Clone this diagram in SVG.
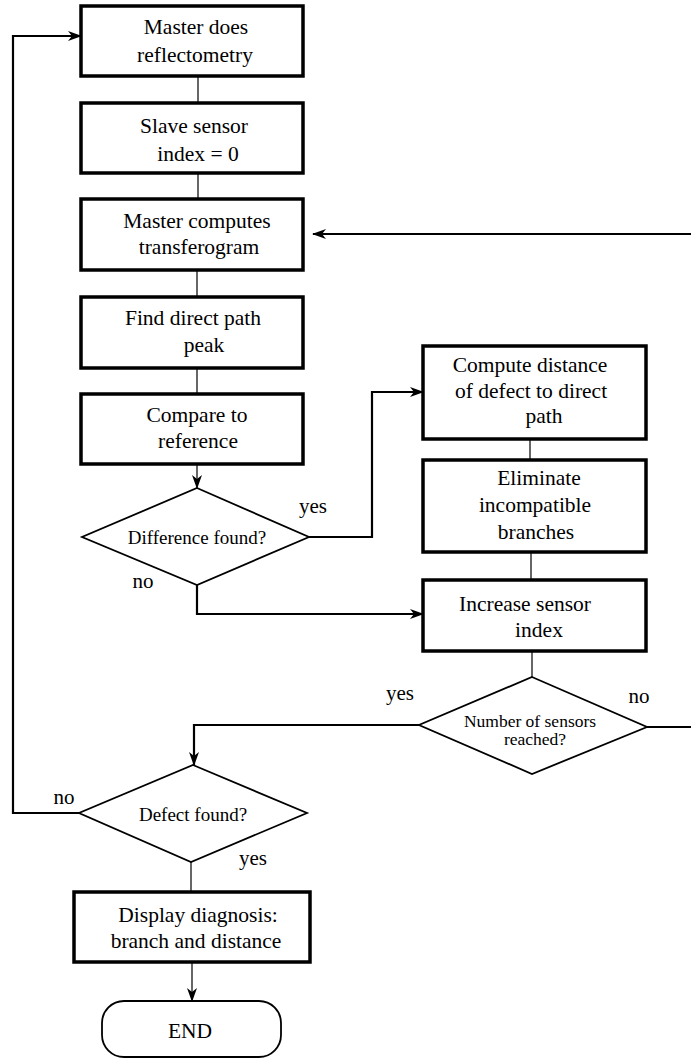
<svg xmlns="http://www.w3.org/2000/svg" width="691" height="1061" viewBox="0 0 691 1061">
<style>
.box{fill:#fff;stroke:#000;stroke-width:3.5}
.dia{fill:#fff;stroke:#000;stroke-width:1.8}
.term{fill:#fff;stroke:#000;stroke-width:1.8}
.t{font-family:"Liberation Serif","Times New Roman",serif;font-size:21.5px;fill:#000;text-anchor:middle}
.ts{font-family:"Liberation Serif","Times New Roman",serif;font-size:19px;fill:#000;text-anchor:middle}
.ts2{font-family:"Liberation Serif","Times New Roman",serif;font-size:17.5px;fill:#000;text-anchor:middle}
.lab{font-family:"Liberation Serif","Times New Roman",serif;font-size:21px;fill:#000;text-anchor:middle}
.thin{fill:none;stroke:#000;stroke-width:1.2}
.flow{fill:none;stroke:#000;stroke-width:2.2}
</style>
<defs>
<marker id="ah" viewBox="0 0 14 10" refX="13" refY="5" markerWidth="14" markerHeight="10" markerUnits="userSpaceOnUse" orient="auto">
<path d="M0,0 L14,5 L0,10 L4,5 z" fill="#000"/>
</marker>
</defs>
<g id="connectors">
<line class="thin" x1="198" y1="76" x2="198" y2="103"/>
<line class="thin" x1="198" y1="173" x2="198" y2="199"/>
<line class="thin" x1="197" y1="270" x2="197" y2="297"/>
<line class="thin" x1="197" y1="368" x2="197" y2="394"/>
<line class="thin" x1="197" y1="464" x2="197" y2="488" marker-end="url(#ah)"/>
<path class="flow" d="M309,537 H372 V392 H423" marker-end="url(#ah)"/>
<path class="flow" d="M197,585 V614 H423" marker-end="url(#ah)"/>
<line class="thin" x1="530" y1="439" x2="530" y2="460"/>
<line class="thin" x1="531" y1="552" x2="531" y2="580"/>
<line class="thin" x1="532" y1="651" x2="532" y2="677"/>
<path class="flow" d="M647,727 H694 V234 H313" marker-end="url(#ah)"/>
<path class="flow" d="M419,725 H194 V765" marker-end="url(#ah)"/>
<path class="flow" d="M79,813 H13 V36 H81" marker-end="url(#ah)"/>
<line class="thin" x1="191" y1="862" x2="191" y2="892"/>
<line class="thin" x1="192" y1="962" x2="192" y2="1001" marker-end="url(#ah)"/>
<text class="lab" x="313" y="513">yes</text>
<text class="lab" x="143" y="588">no</text>
<text class="lab" x="400" y="700">yes</text>
<text class="lab" x="639" y="703">no</text>
<text class="lab" x="64" y="804">no</text>
<text class="lab" x="253" y="865">yes</text>
</g>
<g id="n1"><rect class="box" x="81" y="6" width="222" height="70"/><text class="t" x="196" y="34">Master does</text><text class="t" x="195" y="62">reflectometry</text></g>
<g id="n2"><rect class="box" x="81" y="103" width="222" height="70"/><text class="t" x="194" y="133">Slave sensor</text><text class="t" x="198" y="161">index =  0</text></g>
<g id="n3"><rect class="box" x="81" y="199" width="222" height="71"/><text class="t" x="197" y="228">Master computes</text><text class="t" x="199" y="254">transferogram</text></g>
<g id="n4"><rect class="box" x="81" y="297" width="222" height="71"/><text class="t" x="193" y="325">Find direct path</text><text class="t" x="204" y="352">peak</text></g>
<g id="n5"><rect class="box" x="81" y="394" width="222" height="70"/><text class="t" x="197" y="422">Compare to</text><text class="t" x="198" y="448">reference</text></g>
<g id="d1"><polygon class="dia" points="197,488 309,537 197,585 82,537"/><text class="ts" x="197" y="544">Difference found?</text></g>
<g id="n6"><rect class="box" x="423" y="346" width="223" height="93"/><text class="t" x="530" y="372">Compute distance</text><text class="t" x="531" y="398">of defect to direct</text><text class="t" x="544" y="423">path</text></g>
<g id="n7"><rect class="box" x="423" y="460" width="223" height="92"/><text class="t" x="539" y="485">Eliminate</text><text class="t" x="535" y="512">incompatible</text><text class="t" x="536" y="539">branches</text></g>
<g id="n8"><rect class="box" x="423" y="580" width="223" height="71"/><text class="t" x="525" y="611">Increase sensor</text><text class="t" x="539" y="637">index</text></g>
<g id="d2"><polygon class="dia" points="532,677 647,727 532,774 419,725"/><text class="ts2" x="530" y="727">Number of sensors</text><text class="ts2" x="535" y="745">reached?</text></g>
<g id="d3"><polygon class="dia" points="193,765 307,813 191,862 79,813"/><text class="ts" x="193" y="821">Defect found?</text></g>
<g id="n9"><rect class="box" x="74" y="892" width="236" height="70"/><text class="t" x="198" y="922">Display diagnosis:</text><text class="t" x="196" y="948">branch and distance</text></g>
<g id="end"><rect class="term" x="102" y="1001" width="179" height="56" rx="22" ry="22"/><text class="t" x="190" y="1038">END</text></g>
</svg>
